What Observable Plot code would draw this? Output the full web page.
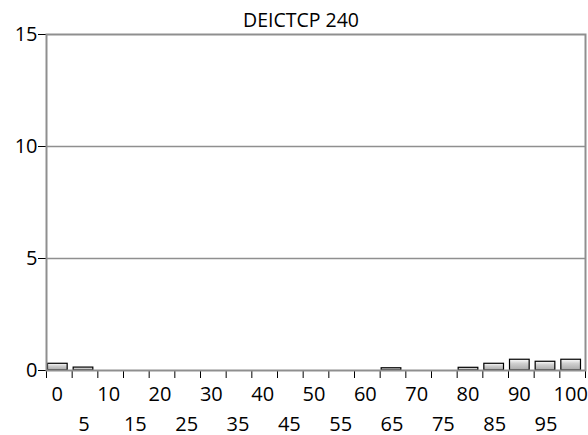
<!DOCTYPE html>
<html>
<head>
<meta charset="utf-8">
<script src="https://cdn.jsdelivr.net/npm/d3@7"></script>
<script src="https://cdn.jsdelivr.net/npm/@observablehq/plot@0.6"></script>
<style>
  html, body { margin: 0; padding: 0; background: #fff; }
</style>
</head>
<body>
<div id="chart"></div>
<script>
const chartTitle = "DEICTCP 240";
const categories = [0, 5, 10, 15, 20, 25, 30, 35, 40, 45, 50, 55, 60, 65, 70, 75, 80, 85, 90, 95, 100];
const values     = [0.30, 0.13, 0, 0, 0, 0, 0, 0, 0, 0, 0, 0, 0, 0.10, 0, 0, 0.12, 0.30, 0.48, 0.39, 0.48];
const yTicks = [0, 5, 10, 15];
const gridValues = [5, 10];
const binWidth = 5;

const data = categories.map((c, i) => ({cat: c, value: values[i], row: i % 2}));
const xBoundaries = categories.map(c => c - binWidth / 2).concat([categories[categories.length - 1] + binWidth / 2]);

const svg = Plot.plot({
  width: 588,
  height: 435,
  marginTop: 34,
  marginLeft: 46,
  marginRight: 3,
  marginBottom: 65,
  style: {background: "white", fontFamily: "'Open Sans', sans-serif", fontSize: "20px", overflow: "visible"},
  x: {domain: [xBoundaries[0], xBoundaries[xBoundaries.length - 1]], ticks: xBoundaries, tickFormat: () => "", tickSize: 8, label: null},
  y: {domain: [0, 15], ticks: yTicks, tickSize: 8, tickPadding: 1, label: null},
  marks: [
    Plot.ruleY(gridValues, {stroke: "#8f8f8f", strokeWidth: 1.5}),
    Plot.rectY(data, {
      filter: d => d.value > 0,
      x1: d => d.cat - binWidth / 2,
      x2: d => d.cat + binWidth / 2,
      y: "value",
      insetLeft: 1.5,
      insetRight: 4.5,
      fill: "url(#barGrad)",
      stroke: "black",
      strokeWidth: 1.2
    }),
    Plot.frame({stroke: "#8f8f8f", strokeWidth: 2}),
    Plot.text(data.filter(d => d.row === 0), {x: "cat", text: d => String(d.cat), frameAnchor: "bottom", dy: 30, dx: -2, fill: "black"}),
    Plot.text(data.filter(d => d.row === 1), {x: "cat", text: d => String(d.cat), frameAnchor: "bottom", dy: 60, dx: -1, fill: "black"}),
    Plot.text([chartTitle], {frameAnchor: "top", dy: -21, dx: -15, fontSize: 19.5, fill: "black"})
  ]
});

const defs = d3.select(svg).insert("defs", ":first-child");
const grad = defs.append("linearGradient").attr("id", "barGrad").attr("x1", 0).attr("y1", 0).attr("x2", 0).attr("y2", 1);
grad.append("stop").attr("offset", "0%").attr("stop-color", "#ffffff");
grad.append("stop").attr("offset", "40%").attr("stop-color", "#cfcfcf");
grad.append("stop").attr("offset", "100%").attr("stop-color", "#a9a9a9");

document.getElementById("chart").appendChild(svg);
</script>
</body>
</html>
